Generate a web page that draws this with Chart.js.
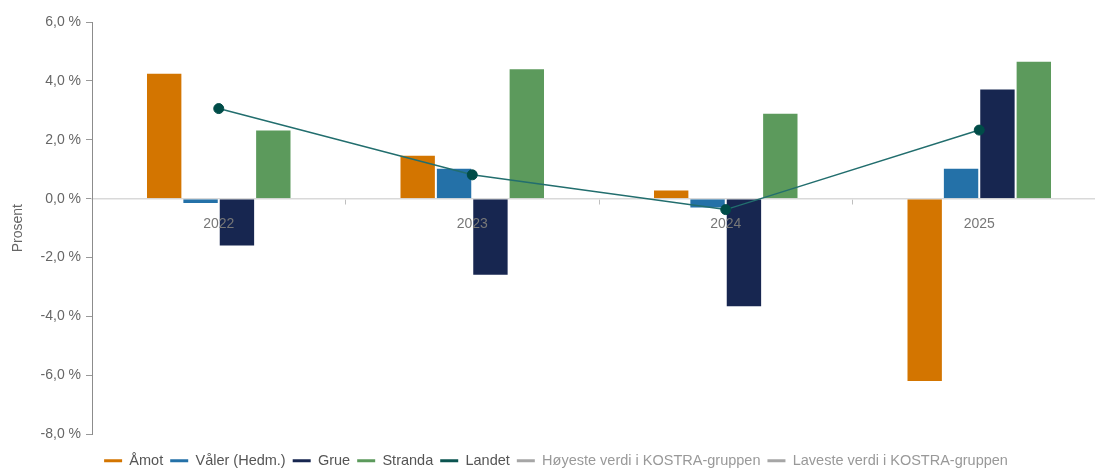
<!DOCTYPE html>
<html>
<head>
<meta charset="utf-8">
<script src="https://cdn.jsdelivr.net/npm/chart.js@4/dist/chart.umd.min.js"></script>
<style>
  html, body { margin: 0; padding: 0; background: #fff; overflow: hidden; }
  #wrap { position: absolute; left: 0; top: 0; width: 1112px; height: 478px; }
</style>
</head>
<body>
<div id="wrap"><canvas id="chart"></canvas></div>
<script>
// years on the x axis
const years = ["2022", "2023", "2024", "2025"];

// values in percent
const amot = [4.28, 1.49, 0.31, -6.22];
const valer = [-0.18, 1.05, -0.33, 1.05];
const grue = [-1.62, -2.62, -3.69, 3.74];
const stranda = [2.35, 4.43, 2.92, 4.68];
const landet = [3.06, 0.81, -0.37, 2.33];

const yMin = -8;
const yMax = 6;
const yStep = 2;

const FONT = "'Liberation Sans', Arial, sans-serif";

function fmtPct(v) {
  return v.toFixed(1).replace(".", ",") + " %";
}

function bar(label, data, color) {
  return {
    type: "bar",
    label: label,
    data: data,
    backgroundColor: color,
    borderColor: "rgba(255,255,255,0.3)",
    borderWidth: 1,
    barPercentage: 1,
    categoryPercentage: 0.574,
    order: 2
  };
}

const datasets = [
  bar("Åmot", amot, "#D37500"),
  bar("Våler (Hedm.)", valer, "#2471A8"),
  bar("Grue", grue, "#172650"),
  bar("Stranda", stranda, "#5C9A5C"),
  {
    type: "line",
    label: "Landet",
    data: landet,
    borderColor: "#226E6E",
    backgroundColor: "#0B5450",
    borderWidth: 1.5,
    pointRadius: 5,
    pointBackgroundColor: "#004C48",
    pointBorderColor: "#004C48",
    pointBorderWidth: 1,
    order: 0
  },
  {
    type: "line",
    label: "Høyeste verdi i KOSTRA-gruppen",
    data: [null, null, null, null],
    borderColor: "#A6A6A6",
    backgroundColor: "#A6A6A6",
    order: 1
  },
  {
    type: "line",
    label: "Laveste verdi i KOSTRA-gruppen",
    data: [null, null, null, null],
    borderColor: "#A6A6A6",
    backgroundColor: "#A6A6A6",
    order: 1
  }
];

new Chart(document.getElementById("chart"), {
  data: { labels: years, datasets: datasets },
  options: {
    responsive: true,
    maintainAspectRatio: false,
    animation: false,
    layout: { padding: { top: 22, left: 0, right: 0, bottom: 0 } },
    plugins: {
      tooltip: { enabled: false },
      legend: {
        position: "bottom",
        // empty title only adds room between plot and legend row
        title: { display: true, text: "", font: { size: 1 }, padding: { top: 11, bottom: 0 } },
        labels: {
          font: { family: FONT, size: 14.5 },
          color: "#555",
          boxWidth: 18,
          boxHeight: 3,
          padding: 7,
          generateLabels: (chart) => {
            const items = Chart.defaults.plugins.legend.labels.generateLabels(chart);
            items.sort((a, b) => a.datasetIndex - b.datasetIndex);
            items.forEach((it) => {
              it.lineWidth = 0;
              it.fontColor = it.datasetIndex >= 5 ? "#999" : "#555";
            });
            return items;
          }
        }
      }
    },
    scales: {
      x: {
        position: { y: 0 },
        offset: true,
        grid: {
          offset: true,
          drawOnChartArea: false,
          drawTicks: true,
          tickLength: 5,
          tickColor: "#BFBFBF"
        },
        border: { color: "#D9D9D9", width: 1.5 },
        ticks: {
          z: 1,
          color: "#777",
          padding: 12,
          font: { family: FONT, size: 14 }
        }
      },
      y: {
        min: yMin,
        max: yMax,
        afterFit: (s) => { s.width = 92; },
        grid: {
          drawOnChartArea: false,
          tickLength: 6,
          tickColor: "#999"
        },
        border: { color: "#8C8C8C", width: 1 },
        ticks: {
          stepSize: yStep,
          color: "#666",
          padding: 5,
          font: { family: FONT, size: 14 },
          callback: (v) => fmtPct(v)
        },
        title: {
          display: true,
          text: "Prosent",
          color: "#666",
          padding: { top: 10, bottom: 0 },
          font: { family: FONT, size: 14 }
        }
      }
    }
  }
});
</script>
</body>
</html>
